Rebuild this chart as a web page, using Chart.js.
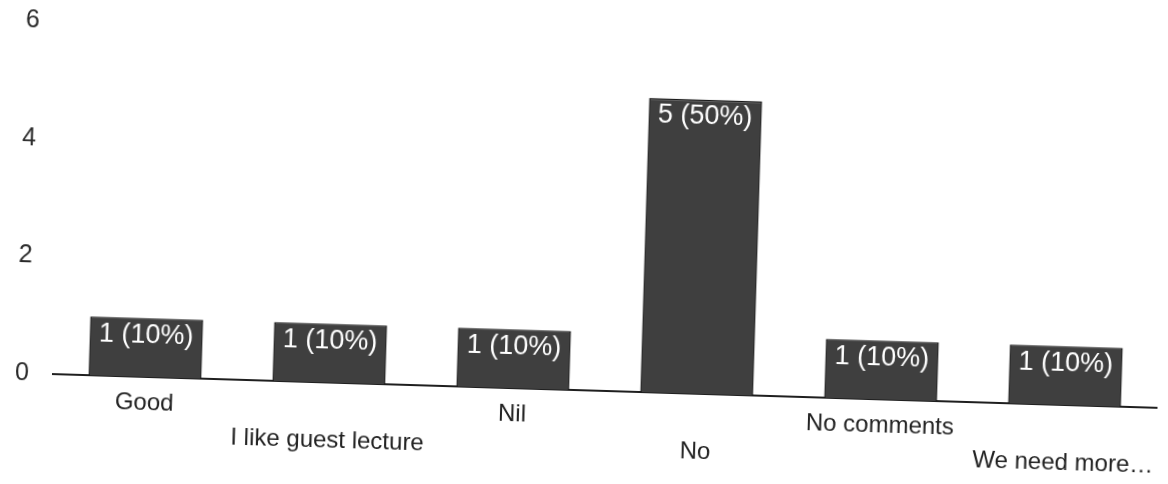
<!DOCTYPE html>
<html>
<head>
<meta charset="utf-8">
<script src="https://cdn.jsdelivr.net/npm/chart.js@4.4.1/dist/chart.umd.min.js"></script>
<style>
  html, body { margin: 0; padding: 0; background: #ffffff; overflow: hidden; }
  #wrap { width: 1168px; height: 484px; overflow: hidden; }
  /* the scanned original sits slightly skewed on the page */
  #answers-chart {
    margin-top: -10px;
    transform: rotate(1.75deg);
    transform-origin: 50px 384px;
  }
</style>
</head>
<body>
<div id="wrap"><canvas id="answers-chart" width="1168" height="494"></canvas></div>
<script>
// Responses per answer
const categories = ["Good", "I like guest lecture", "Nil", "No", "No comments", "We need more\u2026"];
const counts     = [1, 1, 1, 5, 1, 1];
const percents   = [10, 10, 10, 50, 10, 10];
const yTicks     = [0, 2, 4, 6];

const FONT = "'Liberation Sans', Arial, sans-serif";

// labels alternate between two rows, like the original
const staggered = categories.map((c, i) => (i % 2 === 0 ? [c] : ["", c]));

const barLabels = {
  id: "barLabels",
  afterDatasetsDraw(chart) {
    const { ctx } = chart;
    const meta = chart.getDatasetMeta(0);
    ctx.save();
    ctx.font = "27px " + FONT;
    ctx.fillStyle = "#ffffff";
    ctx.textAlign = "center";
    ctx.textBaseline = "middle";
    meta.data.forEach((bar, i) => {
      ctx.fillText(`${counts[i]} (${percents[i]}%)`, bar.x, bar.y + 17);
    });
    ctx.restore();
  },
};

new Chart(document.getElementById("answers-chart"), {
  type: "bar",
  data: {
    labels: staggered,
    datasets: [{
      data:            counts,
      backgroundColor: "#3f3f3f",
      borderColor:     "#1a1a1a",
      borderWidth:     1.5,
      categoryPercentage: 0.615,
      barPercentage:   1.0,
    }],
  },
  options: {
    responsive: false,
    animation: false,
    layout: { padding: { top: 0, right: 11, left: 0, bottom: 0 } },
    plugins: {
      legend:  { display: false },
      tooltip: { enabled: false },
    },
    scales: {
      x: {
        grid:   { display: false },
        border: { display: true, color: "#1f1f1f", width: 2 },
        ticks: {
          font: { family: FONT, size: 24, lineHeight: 1.31 },
          color: "#222222",
          padding: 3,
          maxRotation: 0,
          autoSkip: false,
        },
        afterFit: s => { s.height = 110; },
      },
      y: {
        min: 0,
        max: 6,
        afterBuildTicks: s => { s.ticks = yTicks.map(v => ({ value: v })); },
        grid:   { display: false },
        border: { display: false },
        ticks: {
          font: { family: FONT, size: 25 },
          color: "#2a2a2a",
          padding: 16,
        },
        afterFit: s => { s.width = 53; },
      },
    },
  },
  plugins: [barLabels],
});
</script>
</body>
</html>
